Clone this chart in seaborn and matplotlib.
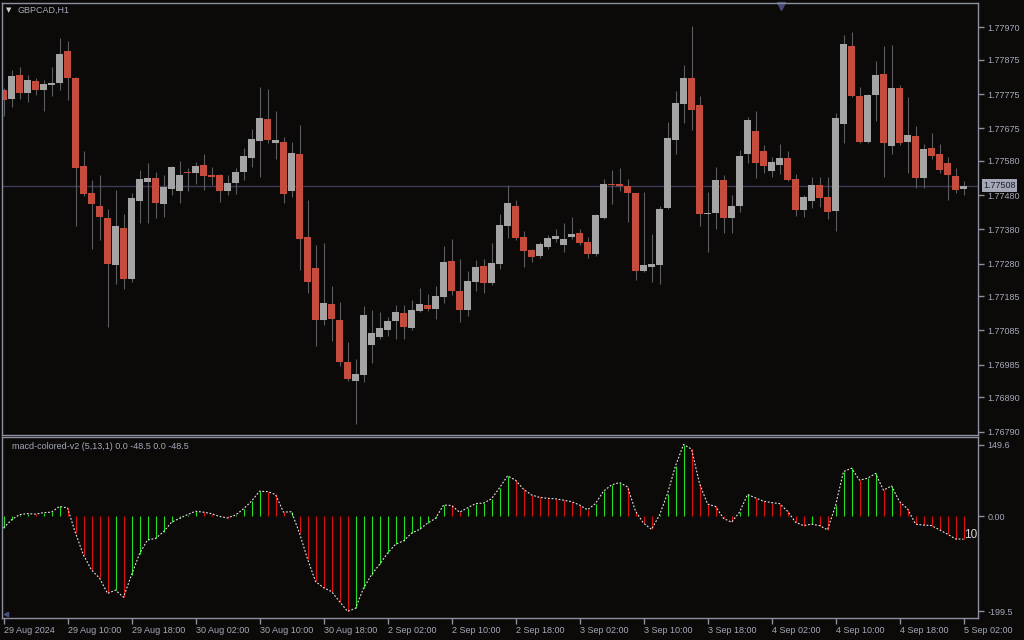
import numpy as np
import pandas as pd
import matplotlib.pyplot as plt
import seaborn as sns

# GBPCAD H1 candles
opens = [1.77787, 1.77761, 1.77831, 1.77778, 1.77813, 1.77787, 1.77802, 1.77808, 1.77901, 1.77822,
         1.77565, 1.77486, 1.77448, 1.77413, 1.77276, 1.77384, 1.77235, 1.77463, 1.77519, 1.77530,
         1.77454, 1.77498, 1.77492, 1.77548, 1.77545, 1.77568, 1.77539, 1.77539, 1.77492, 1.77516,
         1.77548, 1.77589, 1.77638, 1.77703, 1.77632, 1.77635, 1.77492, 1.77600, 1.77358, 1.77267,
         1.77116, 1.77162, 1.77116, 1.76993, 1.76937, 1.76955, 1.77043, 1.77066, 1.77086, 1.77113,
         1.77136, 1.77092, 1.77142, 1.77159, 1.77148, 1.77183, 1.77288, 1.77200, 1.77145, 1.77227,
         1.77273, 1.77224, 1.77279, 1.77390, 1.77448, 1.77358, 1.77320, 1.77302, 1.77329, 1.77352,
         1.77335, 1.77358, 1.77370, 1.77343, 1.77308, 1.77413, 1.77513, 1.77513, 1.77507, 1.77486,
         1.77259, 1.77270, 1.77276, 1.77443, 1.77641, 1.77746, 1.77822, 1.77743, 1.77425, 1.77428,
         1.77524, 1.77413, 1.77448, 1.77600, 1.77667, 1.77609, 1.77551, 1.77568, 1.77589, 1.77527,
         1.77437, 1.77463, 1.77510, 1.77475, 1.77434, 1.77688, 1.77916, 1.77770, 1.77635, 1.77773,
         1.77834, 1.77624, 1.77793, 1.77635, 1.77653, 1.77530, 1.77618, 1.77600, 1.77574, 1.77536,
         1.77498]
highs = [1.77793, 1.77846, 1.77854, 1.77831, 1.77822, 1.77816, 1.77854, 1.77939, 1.77930, 1.77825,
         1.77609, 1.77524, 1.77539, 1.77440, 1.77495, 1.77425, 1.77486, 1.77554, 1.77574, 1.77548,
         1.77539, 1.77565, 1.77580, 1.77559, 1.77577, 1.77600, 1.77562, 1.77542, 1.77539, 1.77559,
         1.77618, 1.77673, 1.77796, 1.77790, 1.77726, 1.77650, 1.77635, 1.77685, 1.77466, 1.77335,
         1.77340, 1.77215, 1.77168, 1.77051, 1.77002, 1.77156, 1.77145, 1.77139, 1.77124, 1.77159,
         1.77159, 1.77174, 1.77209, 1.77192, 1.77215, 1.77332, 1.77352, 1.77294, 1.77259, 1.77291,
         1.77294, 1.77340, 1.77425, 1.77510, 1.77466, 1.77375, 1.77323, 1.77343, 1.77364, 1.77381,
         1.77399, 1.77416, 1.77381, 1.77358, 1.77425, 1.77527, 1.77554, 1.77559, 1.77527, 1.77486,
         1.77489, 1.77367, 1.77448, 1.77694, 1.77784, 1.77860, 1.77974, 1.77770, 1.77489, 1.77562,
         1.77539, 1.77481, 1.77612, 1.77708, 1.77726, 1.77627, 1.77592, 1.77629, 1.77609, 1.77542,
         1.77481, 1.77533, 1.77533, 1.77533, 1.77720, 1.77948, 1.77957, 1.77796, 1.77776, 1.77872,
         1.77916, 1.77919, 1.77802, 1.77767, 1.77682, 1.77629, 1.77662, 1.77629, 1.77592, 1.77559,
         1.77521]
lows = [1.77711, 1.77738, 1.77761, 1.77752, 1.77773, 1.77726, 1.77770, 1.77787, 1.77758, 1.77390,
        1.77478, 1.77323, 1.77349, 1.77095, 1.77221, 1.77206, 1.77227, 1.77399, 1.77399, 1.77413,
        1.77416, 1.77481, 1.77457, 1.77492, 1.77513, 1.77495, 1.77510, 1.77460, 1.77481, 1.77484,
        1.77524, 1.77562, 1.77533, 1.77632, 1.77586, 1.77457, 1.77475, 1.77262, 1.77194, 1.77040,
        1.77101, 1.77054, 1.76981, 1.76937, 1.76812, 1.76935, 1.76990, 1.77060, 1.77069, 1.77060,
        1.77060, 1.77086, 1.77139, 1.77142, 1.77118, 1.77165, 1.77189, 1.77110, 1.77127, 1.77200,
        1.77194, 1.77218, 1.77264, 1.77355, 1.77349, 1.77270, 1.77285, 1.77297, 1.77323, 1.77343,
        1.77314, 1.77352, 1.77335, 1.77297, 1.77302, 1.77410, 1.77454, 1.77492, 1.77402, 1.77232,
        1.77256, 1.77227, 1.77221, 1.77440, 1.77600, 1.77691, 1.77670, 1.77390, 1.77314, 1.77381,
        1.77370, 1.77370, 1.77431, 1.77574, 1.77530, 1.77545, 1.77533, 1.77542, 1.77521, 1.77419,
        1.77416, 1.77443, 1.77446, 1.77410, 1.77375, 1.77632, 1.77767, 1.77632, 1.77632, 1.77697,
        1.77533, 1.77600, 1.77627, 1.77545, 1.77501, 1.77501, 1.77586, 1.77545, 1.77466, 1.77486,
        1.77481]
closes = [1.77758, 1.77828, 1.77778, 1.77816, 1.77787, 1.77805, 1.77808, 1.77892, 1.77822, 1.77559,
          1.77484, 1.77454, 1.77416, 1.77279, 1.77390, 1.77235, 1.77472, 1.77527, 1.77530, 1.77457,
          1.77504, 1.77562, 1.77539, 1.77545, 1.77565, 1.77536, 1.77533, 1.77492, 1.77516, 1.77548,
          1.77594, 1.77644, 1.77705, 1.77641, 1.77641, 1.77484, 1.77603, 1.77352, 1.77227, 1.77116,
          1.77165, 1.77118, 1.76993, 1.76943, 1.76958, 1.77130, 1.77078, 1.77092, 1.77113, 1.77139,
          1.77095, 1.77145, 1.77162, 1.77148, 1.77186, 1.77285, 1.77200, 1.77145, 1.77229, 1.77270,
          1.77224, 1.77282, 1.77393, 1.77457, 1.77355, 1.77317, 1.77300, 1.77338, 1.77355, 1.77361,
          1.77352, 1.77367, 1.77340, 1.77308, 1.77422, 1.77513, 1.77510, 1.77507, 1.77486, 1.77259,
          1.77276, 1.77279, 1.77440, 1.77647, 1.77749, 1.77822, 1.77729, 1.77425, 1.77428, 1.77524,
          1.77413, 1.77448, 1.77594, 1.77700, 1.77574, 1.77565, 1.77577, 1.77589, 1.77524, 1.77437,
          1.77475, 1.77510, 1.77472, 1.77431, 1.77705, 1.77922, 1.77770, 1.77635, 1.77773, 1.77831,
          1.77632, 1.77793, 1.77632, 1.77656, 1.77530, 1.77615, 1.77594, 1.77554, 1.77539, 1.77495,
          1.77508]

# macd-colored-v2 (5,13,1) values per bar
macd = [-25, -8, 3, 5, 4, 7, 8, 20, 17, -36,
        -82, -113, -130, -162, -155, -170, -123, -79, -50, -47,
        -33, -13, -5, 3, 10, 8, 5, -1, -4, 2,
        15, 31, 52, 51, 45, 8, 9, -36, -90, -137,
        -150, -158, -179, -199.5, -193, -151, -123, -101, -78, -59,
        -52, -36, -28, -15, -5, 23, 22, 8, 17, 26,
        27, 36, 59, 84, 75, 56, 44, 39, 37, 36,
        33, 30, 23, 13, 26, 52, 65, 70, 61, 10,
        -15, -28, 2, 47, 105, 149.6, 140, 68, 25, 20,
        -5, -13, 8, 45, 38, 31, 28, 26, 10, -13,
        -20, -17, -20, -29, 22, 93, 100, 75, 79, 89,
        54, 63, 30, 15, -17, -19, -20, -29, -38, -48, -48.5]

time_labels = ["29 Aug 2024", "29 Aug 10:00", "29 Aug 18:00", "30 Aug 02:00", "30 Aug 10:00",
               "30 Aug 18:00", "2 Sep 02:00", "2 Sep 10:00", "2 Sep 18:00", "3 Sep 02:00",
               "3 Sep 10:00", "3 Sep 18:00", "4 Sep 02:00", "4 Sep 10:00", "4 Sep 18:00",
               "5 Sep 02:00"]
price_ticks = [1.77970, 1.77875, 1.77775, 1.77675, 1.77580, 1.77480, 1.77380,
               1.77280, 1.77185, 1.77085, 1.76985, 1.76890, 1.76790]
macd_ticks = [149.6, 0.0, -199.5]
last_price = 1.77508

bg = '#0c0a08'
frame = '#8c90a0'
txt = '#a4a8ba'

sns.set_theme(style='dark', rc={'axes.facecolor': bg, 'figure.facecolor': bg,
                                'axes.edgecolor': frame, 'axes.grid': False})
plt.rcParams['font.family'] = ['Liberation Sans', 'DejaVu Sans']

df = pd.DataFrame({'open': opens, 'high': highs, 'low': lows, 'close': closes, 'macd': macd})
df['bar'] = np.arange(len(df))
df['up'] = df['close'] >= df['open']

fig = plt.figure(figsize=(10.24, 6.4), dpi=100)
ax = fig.add_axes([2 / 1024, 1 - 435 / 640, 976 / 1024, 432 / 640])
ax2 = fig.add_axes([2 / 1024, 1 - 618 / 640, 976 / 1024, 181 / 640])

# candles
ax.axhline(last_price, color='#3b3b55', lw=1, zorder=0)
ax.vlines(df['bar'], df['low'], df['high'], color='#585b60', lw=0.8, zorder=1)
body = np.maximum((df['close'] - df['open']).abs(), 0.00003)
ax.bar(df['bar'], body, bottom=np.minimum(df['open'], df['close']), width=0.86,
       color=np.where(df['up'], '#a4a4a4', '#c54b3c'), linewidth=0, zorder=2)

ax.set_xlim(-0.19, 121.81)
ax.set_ylim(1.767798, 1.780412)
ax.set_xticks([])
ax.yaxis.tick_right()
ax.set_yticks(price_ticks)
ax.set_yticklabels([f"{v:.5f}" for v in price_ticks])
ax.tick_params(axis='y', length=4, width=1, color=frame, labelcolor=txt, labelsize=6.5, pad=3)
for s in ax.spines.values():
    s.set_color(frame)
    s.set_linewidth(1)

ax.text(1.0053, last_price, f"{last_price:.5f}", transform=ax.get_yaxis_transform(),
        ha='left', va='center', fontsize=6.5, color='#1c1e2e', zorder=5,
        bbox=dict(boxstyle='square,pad=0.18', fc='#a4a8b6', ec='none'))
ax.plot([0.798], [0.993], marker='v', ms=6, color='#454a78', transform=ax.transAxes, clip_on=False)

fig.text(9 / 1024, 1 - 10 / 640, '▼', fontsize=5, color='#d0d0d0', ha='center', va='center',
         family=['DejaVu Sans'])
fig.text(18 / 1024, 1 - 10 / 640, 'GBPCAD,H1', fontsize=6.5, color=txt, ha='left', va='center')

# macd panel
hist_colors = ['#22dd22' if i == 0 or df['macd'][i] >= df['macd'][i - 1] else '#dd1111'
               for i in range(len(df))]
ax2.vlines(df['bar'], 0, df['macd'], colors=hist_colors, lw=0.8, zorder=1)
sns.lineplot(x=df['bar'], y=df['macd'], ax=ax2, color='#e6e6e6', lw=0.8,
             linestyle=(0, (1.6, 1.6)), zorder=2)
ax2.set_xlim(-0.19, 121.81)
ax2.set_ylim(-213.4, 165.3)
ax2.set_xlabel('')
ax2.set_ylabel('')
ax2.yaxis.tick_right()
ax2.set_yticks(macd_ticks)
ax2.set_yticklabels(['149.6', '0.00', '-199.5'])
ax2.set_xticks(df['bar'][::8])
ax2.set_xticklabels(time_labels, ha='left')
ax2.tick_params(axis='y', length=4, width=1, color=frame, labelcolor=txt, labelsize=6.5, pad=3)
ax2.tick_params(axis='x', length=4, width=1, color=frame, labelcolor=txt, labelsize=6.5, pad=2,
                bottom=True)
for s in ax2.spines.values():
    s.set_color(frame)
    s.set_linewidth(1)

ax2.text(0.01, 0.945, 'macd-colored-v2 (5,13,1) 0.0 -48.5 0.0 -48.5', transform=ax2.transAxes,
         fontsize=6.5, color=txt, ha='left', va='center')
ax2.text(0.9857, 0.459, '10', transform=ax2.transAxes, fontsize=8.5, color='#d8d8d8',
         ha='left', va='center')
ax2.plot([0.004], [0.02], marker='<', ms=3, color='#4a4e80', transform=ax2.transAxes, clip_on=False)

fig.savefig('out.png', dpi=100, facecolor=bg)
